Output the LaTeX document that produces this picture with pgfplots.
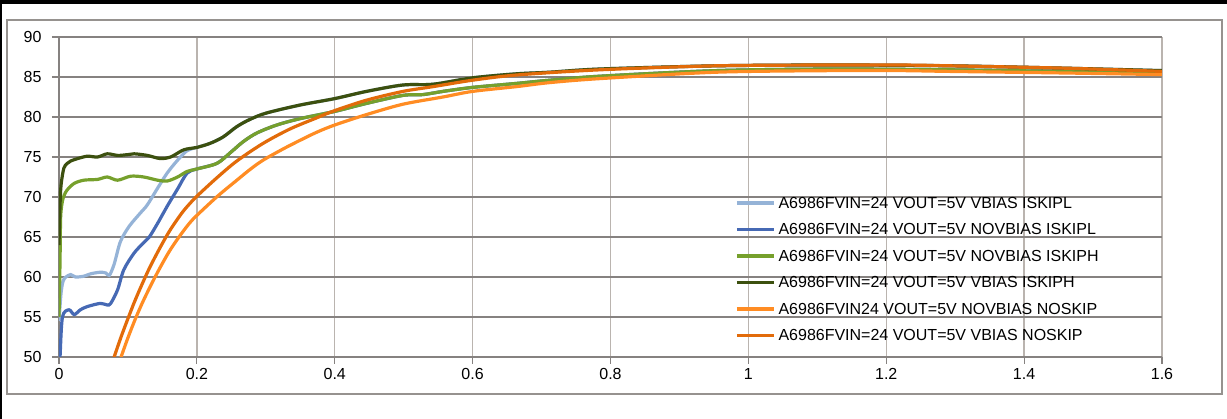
\documentclass[border=0pt]{standalone}
\usepackage{fontspec}
\setmainfont{Liberation Sans}
\usepackage{pgfplots}
\pgfplotsset{compat=1.18}
\definecolor{lb}{RGB}{149,179,215}
\definecolor{db}{RGB}{70,105,180}
\definecolor{gr}{RGB}{118,160,44}
\definecolor{dg}{RGB}{60,80,15}
\definecolor{og}{RGB}{255,140,35}
\definecolor{dor}{RGB}{226,107,10}
\definecolor{hgray}{RGB}{134,130,128}
\definecolor{vgray}{RGB}{186,180,175}
\definecolor{framegray}{RGB}{150,146,143}
\begin{document}
\begin{tikzpicture}[x=1pt,y=1pt]
\useasboundingbox (-59,-62) rectangle (1168,357);
\fill[black] (-59,353) rectangle (1168,357);
\fill[black] (-59,-62) rectangle (-56.5,357);
\draw[framegray, line width=1.2pt] (-52,-37) rectangle (1163,337);
\begin{axis}[
  at={(0,0)}, anchor=south west,
  scale only axis, width=1103pt, height=320pt,
  xmin=0, xmax=1.6, ymin=50, ymax=90,
  xtick={0,0.2,0.4,0.6,0.8,1,1.2,1.4,1.6},
  ytick={50,55,60,65,70,75,80,85,90},
  axis x line*=bottom, axis y line*=left,
  axis line style={-, draw=hgray, line width=1.2pt},
  grid=major,
  x grid style={vgray, line width=1.3pt},
  y grid style={hgray, line width=1.3pt},
  tick align=outside, major tick length=7pt,
  tick style={hgray, line width=1.2pt},
  tick label style={font=\fontsize{16}{18}\selectfont},
  yticklabel style={xshift=-7pt},
  xticklabel style={yshift=-1pt},
  /pgf/number format/assume math mode=true,
  clip=true,
  legend style={at={(axis description cs:0.6130,0.5056)}, anchor=north west,
    draw=none, fill=none, inner sep=0pt, column sep=3pt, row sep=11.5pt,
    font=\fontsize{16}{18}\selectfont,
    nodes={inner sep=0pt, text height=13pt, text depth=2pt}},
  legend cell align=left,
  legend image code/.code={\draw[#1] (0pt,0pt) -- (37pt,0pt);},
]
\addplot[lb, line width=3.2pt, smooth, mark=none] coordinates {
(0,54.5) (0.003,58) (0.006,59.5) (0.01,60.0) (0.017,60.3) (0.024,60.0) (0.036,60.1) (0.046,60.4) (0.06,60.6) (0.068,60.5) (0.073,60.2) (0.08,61.6) (0.089,64.4) (0.1015,66.3) (0.118,68.0) (0.128,69.0) (0.143,71.1) (0.157,73.0) (0.172,74.6) (0.186,75.8) (0.2,76.2) (0.219,76.7) (0.238,77.5) (0.258,78.8) (0.277,79.7) (0.301,80.5) (0.35,81.5) (0.4,82.3) (0.446,83.2) (0.499,84.0) (0.543,84.1) (0.6,84.9) (0.664,85.4) (0.712,85.6) (0.785,86.0) (0.954,86.4) (1.123,86.5) (1.292,86.4) (1.46,86.1) (1.6,85.8)
};
\addlegendentry{A6986FVIN=24 VOUT=5V VBIAS ISKIPL}
\addplot[db, line width=3.2pt, smooth, mark=none] coordinates {
(0,48) (0.0015,50) (0.005,55.0) (0.0145,55.9) (0.022,55.3) (0.031,55.9) (0.041,56.3) (0.06,56.7) (0.07,56.5) (0.075,56.7) (0.085,58.4) (0.094,60.9) (0.109,63.0) (0.123,64.3) (0.131,65.0) (0.143,66.7) (0.158,69.0) (0.172,71.0) (0.186,73.0) (0.2,73.5) (0.229,74.2) (0.248,75.5) (0.267,76.9) (0.287,78.0) (0.316,79.0) (0.35,79.8) (0.4,80.7) (0.446,81.7) (0.499,82.7) (0.528,82.8) (0.557,83.2) (0.6,83.7) (0.664,84.2) (0.712,84.6) (0.785,85.1) (0.954,85.8) (1.123,86.0) (1.292,85.9) (1.46,85.7) (1.6,85.6)
};
\addlegendentry{A6986FVIN=24 VOUT=5V NOVBIAS ISKIPL}
\addplot[gr, line width=3.2pt, smooth, mark=none] coordinates {
(0,55) (0.0015,62) (0.0024,67.5) (0.005,69.5) (0.008,70.3) (0.012,70.9) (0.022,71.7) (0.036,72.1) (0.056,72.2) (0.07,72.5) (0.085,72.1) (0.104,72.6) (0.123,72.5) (0.143,72.1) (0.157,72.0) (0.172,72.5) (0.186,73.2) (0.2,73.5) (0.229,74.2) (0.248,75.5) (0.267,76.9) (0.287,78.0) (0.316,79.0) (0.35,79.8) (0.4,80.7) (0.446,81.7) (0.499,82.7) (0.528,82.8) (0.557,83.2) (0.6,83.7) (0.664,84.2) (0.712,84.6) (0.785,85.1) (0.954,85.8) (1.123,86.0) (1.292,85.9) (1.46,85.7) (1.6,85.6)
};
\addlegendentry{A6986FVIN=24 VOUT=5V NOVBIAS ISKIPH}
\addplot[dg, line width=3.2pt, smooth, mark=none] coordinates {
(0,64) (0.0015,69) (0.003,71.5) (0.007,73.6) (0.012,74.2) (0.017,74.5) (0.027,74.8) (0.041,75.1) (0.056,75.0) (0.07,75.4) (0.085,75.2) (0.1,75.3) (0.109,75.4) (0.128,75.2) (0.147,74.8) (0.162,75.0) (0.181,75.9) (0.2,76.2) (0.219,76.7) (0.238,77.5) (0.258,78.8) (0.277,79.7) (0.301,80.5) (0.35,81.5) (0.4,82.3) (0.446,83.2) (0.499,84.0) (0.543,84.1) (0.6,84.9) (0.664,85.4) (0.712,85.6) (0.785,86.0) (0.954,86.4) (1.123,86.5) (1.292,86.4) (1.46,86.1) (1.6,85.8)
};
\addlegendentry{A6986FVIN=24 VOUT=5V VBIAS ISKIPH}
\addplot[og, line width=3.2pt, smooth, mark=none] coordinates {
(0.087,49.3) (0.09,50) (0.10,52.4) (0.11,54.6) (0.12,56.6) (0.13,58.4) (0.14,60.1) (0.15,61.7) (0.16,63.2) (0.17,64.5) (0.18,65.7) (0.19,66.8) (0.2,67.7) (0.23,70.1) (0.258,72.1) (0.278,73.5) (0.296,74.6) (0.325,76.0) (0.35,77.1) (0.374,78.1) (0.4,79.0) (0.446,80.3) (0.499,81.6) (0.557,82.5) (0.6,83.2) (0.664,83.8) (0.712,84.3) (0.785,84.8) (0.954,85.6) (1.123,85.8) (1.22,85.8) (1.292,85.7) (1.46,85.5) (1.6,85.3)
};
\addlegendentry{A6986FVIN24 VOUT=5V NOVBIAS NOSKIP}
\addplot[dor, line width=3.2pt, smooth, mark=none] coordinates {
(0.077,49.2) (0.08,50) (0.09,52.5) (0.1,54.8) (0.11,57.0) (0.12,59.0) (0.13,60.9) (0.14,62.6) (0.15,64.2) (0.16,65.7) (0.17,67.0) (0.18,68.2) (0.19,69.2) (0.2,70.1) (0.229,72.4) (0.258,74.5) (0.296,76.7) (0.335,78.5) (0.374,79.9) (0.4,80.8) (0.446,82.1) (0.499,83.2) (0.543,83.8) (0.6,84.6) (0.664,85.25) (0.785,85.9) (0.954,86.4) (1.123,86.5) (1.22,86.5) (1.292,86.4) (1.46,86.1) (1.6,85.7)
};
\addlegendentry{A6986FVIN=24 VOUT=5V VBIAS NOSKIP}
\end{axis}
\end{tikzpicture}
\end{document}
